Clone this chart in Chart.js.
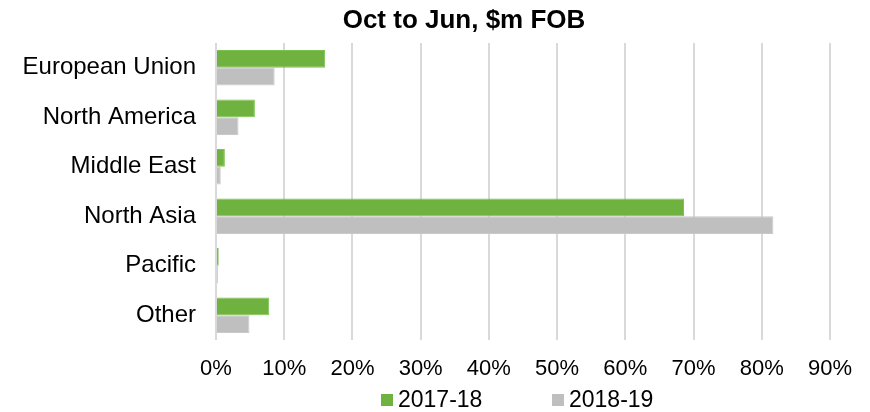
<!DOCTYPE html>
<html>
<head>
<meta charset="utf-8">
<script src="https://cdn.jsdelivr.net/npm/chart.js@4"></script>
<style>
  html, body { margin: 0; padding: 0; background: #fff; }
  #wrap { position: relative; width: 870px; height: 412px; font-family: "Liberation Sans", Arial, sans-serif; }
  #title { position: absolute; left: 0; width: 928px; top: 4px; text-align: center; font-weight: bold; font-size: 26px; color: #000; line-height: 30px; }
  .lg { position: absolute; top: 386px; font-size: 23px; color: #000; line-height: 26px; white-space: nowrap; }
  .lg i { display: inline-block; width: 12px; height: 12px; margin-right: 5px; vertical-align: 1px; }
</style>
</head>
<body>
<div id="wrap">
  <canvas id="c" width="870" height="412"></canvas>
  <div id="title">Oct to Jun, $m FOB</div>
  <div id="legend"></div>
</div>
<script>
const categories = ["European Union", "North America", "Middle East", "North Asia", "Pacific", "Other"];
const seriesNames = ["2017-18", "2018-19"];
const values2017 = [16.0, 5.7, 1.3, 68.6, 0.4, 7.8];
const values2018 = [8.6, 3.3, 0.7, 81.7, 0.3, 4.9];
const xTicks = [0, 10, 20, 30, 40, 50, 60, 70, 80, 90];
const colors = ["#6fb23f", "#bfbfbf"];
const borderColors = ["#7cc24e", "#c9c9c9"];

const legendEl = document.getElementById('legend');
const legendLefts = [381, 552];
seriesNames.forEach((n, i) => {
  const d = document.createElement('div');
  d.className = 'lg';
  d.style.left = legendLefts[i] + 'px';
  d.innerHTML = '<i style="background:' + colors[i] + '"></i>' + n;
  legendEl.appendChild(d);
});

new Chart(document.getElementById('c'), {
  type: 'bar',
  data: {
    labels: categories,
    datasets: [
      { label: seriesNames[0], data: values2017, backgroundColor: colors[0], borderColor: borderColors[0], borderWidth: 1, barPercentage: 1, categoryPercentage: 0.72 },
      { label: seriesNames[1], data: values2018, backgroundColor: colors[1], borderColor: borderColors[1], borderWidth: 1, barPercentage: 1, categoryPercentage: 0.72 }
    ]
  },
  options: {
    indexAxis: 'y',
    responsive: false,
    animation: false,
    layout: { padding: { top: 43, right: 40, left: 0, bottom: 0 } },
    plugins: { legend: { display: false }, title: { display: false }, tooltip: { enabled: false } },
    scales: {
      x: {
        min: 0, max: 90,
        afterBuildTicks: (s) => { s.ticks = xTicks.map(v => ({ value: v })); },
        afterFit: (s) => { s.height = 72; },
        grid: { color: '#d9d9d9', lineWidth: 2, drawTicks: false },
        border: { display: false },
        ticks: { padding: 16, color: '#000', font: { family: 'Liberation Sans', size: 22 }, callback: (v) => v + '%' }
      },
      y: {
        afterFit: (s) => { s.width = 216; },
        grid: { display: false, drawTicks: false },
        border: { display: false },
        ticks: { padding: 20, color: '#000', font: { family: 'Liberation Sans', size: 24 } }
      }
    }
  }
});
</script>
</body>
</html>
